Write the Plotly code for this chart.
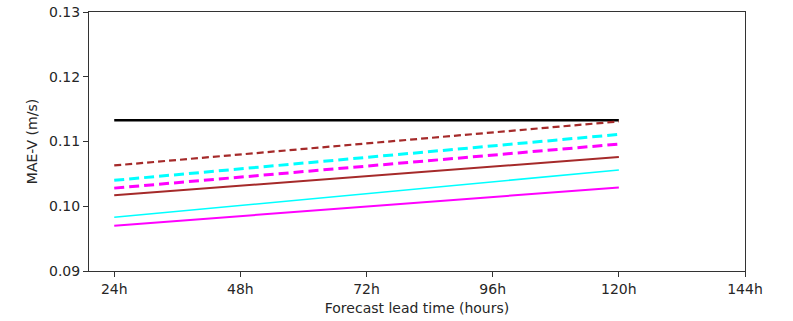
import plotly.graph_objects as go

lead_hours = [24, 120]
x_tick_vals = [24, 48, 72, 96, 120, 144]
x_tick_text = ["24h", "48h", "72h", "96h", "120h", "144h"]
y_tick_vals = [0.09, 0.10, 0.11, 0.12, 0.13]

black_solid = [0.1133, 0.1133]
brown_dashed = [0.1063, 0.1131]
cyan_dashed = [0.1040, 0.1111]
magenta_dashed = [0.1028, 0.1096]
brown_solid = [0.1017, 0.1076]
cyan_solid = [0.0983, 0.1056]
magenta_solid = [0.0970, 0.1029]

series = [
    ("black", black_solid, "black", 2.5, "solid"),
    ("brown dashed", brown_dashed, "#a52a2a", 2.2, "7px,4px"),
    ("cyan dashed", cyan_dashed, "#00ffff", 3, "10px,5px"),
    ("magenta dashed", magenta_dashed, "#ff00ff", 3, "10px,5px"),
    ("brown", brown_solid, "#a52a2a", 2, "solid"),
    ("cyan", cyan_solid, "#00ffff", 1.5, "solid"),
    ("magenta", magenta_solid, "#ff00ff", 2, "solid"),
]

fig = go.Figure()
for name, vals, color, width, dash in series:
    fig.add_trace(go.Scatter(x=lead_hours, y=vals, mode="lines", name=name,
                             line=dict(color=color, width=width, dash=dash)))

txt = dict(family="DejaVu Sans", size=14, color="#262626")
fig.update_layout(
    width=793, height=321,
    margin=dict(l=89, r=48, t=12, b=50),
    paper_bgcolor="white", plot_bgcolor="white",
    showlegend=False,
    font=txt,
)
fig.update_xaxes(
    range=[19.2, 144], tickvals=x_tick_vals, ticktext=x_tick_text,
    showgrid=False, zeroline=False, automargin=False,
    showline=True, linecolor="#333333", linewidth=1, mirror=True,
    ticks="outside", ticklen=5, tickcolor="#333333",
    tickfont=txt, ticklabeloverflow="allow",
    title=dict(text="Forecast lead time (hours)", standoff=7, font=txt),
)
fig.update_yaxes(
    range=[0.09, 0.13], tickvals=y_tick_vals, tickformat=".2f",
    showgrid=False, zeroline=False, automargin=False,
    showline=True, linecolor="#333333", linewidth=1, mirror=True,
    ticks="outside", ticklen=5, tickcolor="#333333",
    tickfont=txt, ticklabeloverflow="allow",
    title=dict(text="MAE-V (m/s)", standoff=8, font=txt),
)
fig.write_html(
    "out.html",
    config={"displayModeBar": False},
    post_script="document.body.style.margin='0';document.body.style.overflow='hidden';",
)
